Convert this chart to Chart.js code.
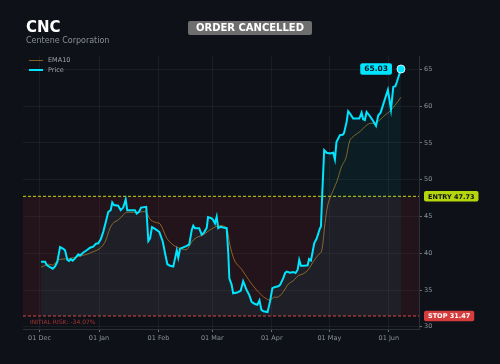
<!DOCTYPE html>
<html>
<head>
<meta charset="utf-8">
<script src="https://cdn.jsdelivr.net/npm/chart.js@4.4.1/dist/chart.umd.min.js"></script>
<style>
    body { margin: 0; background: #0e1117; font-family: 'DejaVu Sans', sans-serif; }
    .wrap { position: relative; width: 500px; height: 364px; }
    .title { position: absolute; left: 26px; top: 18px; color: #fff; font-weight: bold; font-size: 15px; }
    .subtitle { position: absolute; left: 26px; top: 36px; color: #8a8f98; font-size: 8px; }
    .badge { position: absolute; left: 188px; top: 21px; width: 124px; height: 14px; line-height: 14px;
        background: #6e6e6e; color: #fff; font-weight: bold; font-size: 10px; text-align: center; border-radius: 2px; }
    .legend { position: absolute; left: 29px; top: 55px; font-size: 6.5px; color: #a0a4aa; }
    .legend div { height: 10px; line-height: 10px; }
    .legend span { display: inline-block; width: 14px; vertical-align: middle; margin-right: 5px; }
</style>
</head>
<body>
<div class="wrap">
    <canvas id="chart" width="500" height="364"></canvas>
    <div class="title">CNC</div>
    <div class="subtitle">Centene Corporation</div>
    <div class="badge">ORDER CANCELLED</div>
    <div class="legend">
        <div><span style="border-top: 1px solid rgba(230,160,40,0.55)"></span>EMA10</div>
        <div><span style="border-top: 2px solid #00e5ff"></span>Price</div>
    </div>
</div>
<script>
// days counted from 01 Dec
const priceDays = [0.8, 2.9, 3.8, 5.5, 6.9, 8.1, 9.3, 10.7, 12.4, 13.3, 14.5, 15.4, 16.3, 17.3, 18.5, 20.2, 21.1, 22.8, 24.6, 26.3,
    28.0, 29.4, 30.6, 31.9, 33.2, 34.6, 35.8, 37.1, 37.9, 38.8, 41.0, 42.3, 43.6, 44.9, 45.7, 48.0, 49.7, 50.6, 51.8, 52.9,
    55.6, 56.7, 57.6, 58.6, 60.2, 62.4, 64.2, 65.4, 66.6, 68.0, 69.7, 70.6, 71.5, 72.3, 73.2, 74.9, 76.7, 78.0, 79.3, 80.1,
    81.0, 83.2, 84.5, 85.7, 87.1, 87.8, 89.7, 90.5, 91.4, 92.3, 93.1, 94.4, 95.7, 97.5, 98.3, 98.9, 100.1, 100.9, 103.0, 104.8,
    106.1, 107.9, 109.3, 110.5, 112.2, 113.5, 114.6, 115.6, 116.7, 118.8, 120.1, 121.3, 122.7, 124.4, 125.3, 127.0, 127.9, 128.8, 130.5, 132.2,
    133.4, 134.5, 135.3, 136.2, 137.9, 139.7, 140.4, 141.4, 142.3, 143.1, 144.4, 146.1, 146.6, 147.3, 148.3, 149.6, 151.3, 153.0, 153.9, 154.7,
    156.5, 157.9, 158.6, 160.0, 160.8, 162.1, 163.4, 165.2, 166.6, 167.8, 168.6, 169.5, 170.4, 171.8, 173.5, 175.3, 176.5, 177.7, 179.4, 181.5,
    183.1, 184.3, 185.4, 186.2, 188.3];
const priceValues = [38.85, 38.85, 38.4, 38.1, 37.9, 38.2, 38.85, 40.85, 40.6, 40.4, 39.1, 38.95, 39.2, 39.0, 39.3, 39.85, 39.7, 40.1, 40.4, 40.75,
    40.9, 41.3, 41.35, 41.9, 42.9, 44.3, 45.6, 45.85, 46.9, 46.55, 46.45, 45.85, 46.2, 47.3, 45.85, 45.85, 45.85, 45.4, 45.6, 46.2,
    46.3, 41.65, 42.0, 43.55, 43.3, 42.9, 41.6, 40.0, 38.5, 38.3, 38.2, 39.3, 40.4, 39.4, 40.6, 40.8, 41.0, 41.2, 43.15, 43.75,
    43.4, 43.4, 42.5, 42.8, 43.45, 44.9, 44.75, 44.5, 44.05, 44.95, 43.4, 43.6, 43.5, 43.4, 40.2, 36.6, 35.7, 34.55, 34.65, 34.9,
    36.2, 35.0, 34.3, 33.4, 33.1, 33.0, 33.6, 32.3, 32.1, 32.0, 33.45, 35.25, 35.4, 35.5, 35.7, 36.6, 37.3, 37.5, 37.35, 37.45,
    37.3, 37.75, 39.1, 38.3, 38.3, 38.35, 39.2, 39.0, 40.2, 41.35, 42.0, 43.4, 43.6, 48.1, 54.0, 53.65, 53.55, 53.65, 52.75, 55.1,
    56.05, 56.1, 56.3, 57.85, 59.3, 58.85, 58.3, 58.3, 58.3, 59.1, 58.2, 58.1, 59.2, 58.75, 58.1, 57.3, 58.75, 59.1, 60.5, 62.2,
    59.5, 62.6, 62.7, 63.3, 65.03];

const emaDays = [0.8, 4.6, 7.2, 9.8, 12.4, 15.9, 20.2, 24.6, 28.9, 31.5, 34.1, 36.7, 38.8, 41.0, 43.6, 45.4, 48.9, 52.3, 55.5, 57.6,
    60.2, 62.8, 66.4, 69.7, 72.3, 76.7, 79.3, 81.9, 85.3, 87.9, 91.4, 94.9, 97.5, 99.2, 101.8, 105.3, 107.9, 109.6, 113.1, 116.6,
    120.1, 121.8, 124.4, 127.0, 129.6, 132.2, 134.8, 137.4, 140.0, 142.6, 145.2, 147.0, 148.7, 150.4, 152.9, 155.0, 157.4, 159.6, 161.7, 164.3,
    166.9, 169.5, 172.1, 174.7, 177.3, 179.9, 182.6, 185.2, 188.3];
const emaValues = [38.1, 38.5, 38.4, 39.1, 39.2, 39.3, 39.55, 39.85, 40.3, 40.65, 41.5, 43.4, 44.2, 44.5, 45.2, 45.55, 45.55, 45.6, 45.6, 44.6,
    44.2, 44.0, 42.0, 41.1, 40.75, 40.5, 41.55, 42.15, 42.5, 43.0, 43.55, 43.75, 43.4, 41.1, 38.9, 37.8, 36.8, 36.15, 35.0, 34.1,
    33.6, 34.0, 34.05, 34.75, 35.8, 36.25, 36.95, 37.2, 37.75, 38.85, 39.75, 40.3, 44.0, 46.8, 48.5, 49.8, 51.8, 52.9, 55.35, 56.05,
    56.5, 57.2, 57.65, 57.65, 58.1, 58.75, 59.3, 60.1, 61.2];

const monthDays = [0, 31, 62, 90, 121, 151, 182];
const monthLabels = ['01 Dec', '01 Jan', '01 Feb', '01 Mar', '01 Apr', '01 May', '01 Jun'];

const ENTRY = 47.73;
const STOP = 31.47;
const X_MIN = -8.6, X_MAX = 197.7;
const Y_MIN = 29.7, Y_MAX = 66.8;

const pricePoints = priceDays.map((d, i) => ({ x: d, y: priceValues[i] }));
const emaPoints = emaDays.map((d, i) => ({ x: d, y: emaValues[i] }));
const lastIndex = pricePoints.length - 1;

const tickColor = '#8d929a';
const gridColor = 'rgba(255, 255, 255, 0.05)';

// Text labels for entry / stop / last price
const tradeLabels = {
    id: 'tradeLabels',
    afterDraw(chart) {
        const { ctx, chartArea, scales } = chart;
        const y = scales.y, x = scales.x;

        function tag(text, left, cy, bg, fg, size) {
            ctx.save();
            ctx.font = 'bold ' + size + 'px "DejaVu Sans"';
            const w = ctx.measureText(text).width + 8;
            const h = size + 4;
            ctx.fillStyle = bg;
            ctx.beginPath();
            ctx.roundRect(left, cy - h / 2, w, h, 2);
            ctx.fill();
            ctx.fillStyle = fg;
            ctx.textBaseline = 'middle';
            ctx.fillText(text, left + 4, cy + 0.5);
            ctx.restore();
            return w;
        }

        tag('ENTRY ' + ENTRY.toFixed(2), chartArea.right + 5, y.getPixelForValue(ENTRY), '#b5d60c', '#111', 6.5);
        tag('STOP ' + STOP.toFixed(2), chartArea.right + 5, y.getPixelForValue(STOP), '#d63c3c', '#fff', 6.5);

        // last price badge, to the left of the final point
        const last = pricePoints[lastIndex];
        const lx = x.getPixelForValue(last.x);
        const ly = y.getPixelForValue(last.y);
        ctx.save();
        ctx.font = 'bold 7.5px "DejaVu Sans"';
        const bw = ctx.measureText(last.y.toFixed(2)).width + 10;
        ctx.restore();
        tag(last.y.toFixed(2), lx - 8 - bw + 1, ly, '#00e5ff', '#0e1117', 7.5);

        const risk = (STOP - ENTRY) / ENTRY * 100;
        ctx.save();
        ctx.font = '6px "DejaVu Sans"';
        ctx.fillStyle = '#a83434';
        ctx.textBaseline = 'middle';
        ctx.fillText('INITIAL RISK: ' + risk.toFixed(2) + '%', chartArea.left + 7, y.getPixelForValue(STOP) + 6);
        ctx.restore();
    }
};

new Chart(document.getElementById('chart'), {
    type: 'line',
    data: {
        datasets: [
            {
                label: 'Price',
                data: pricePoints,
                borderColor: '#00e5ff',
                borderWidth: 2,
                backgroundColor: 'rgba(0, 229, 255, 0.06)',
                fill: { value: STOP },
                tension: 0,
                pointRadius: ctx => ctx.dataIndex === lastIndex ? 4 : 0,
                pointBackgroundColor: '#00e5ff',
                pointBorderColor: 'rgba(230, 252, 255, 0.9)',
                pointBorderWidth: 1
            },
            {
                label: 'EMA10',
                data: emaPoints,
                borderColor: 'rgba(230, 160, 40, 0.55)',
                borderWidth: 1,
                fill: false,
                tension: 0.3,
                pointRadius: 0
            },
            {
                label: 'Entry',
                data: [{ x: X_MIN, y: ENTRY }, { x: X_MAX, y: ENTRY }],
                borderColor: '#c2dc14',
                borderWidth: 1,
                borderDash: [3, 2],
                backgroundColor: 'rgba(220, 50, 60, 0.1)',
                fill: '+1',
                pointRadius: 0
            },
            {
                label: 'Stop',
                data: [{ x: X_MIN, y: STOP }, { x: X_MAX, y: STOP }],
                borderColor: '#dc4646',
                borderWidth: 1,
                borderDash: [3, 2],
                fill: false,
                pointRadius: 0
            }
        ]
    },
    options: {
        responsive: false,
        animation: false,
        layout: { padding: { left: 23, top: 56, right: 0, bottom: 0 } },
        plugins: {
            legend: { display: false },
            tooltip: { enabled: false }
        },
        scales: {
            x: {
                type: 'linear',
                min: X_MIN,
                max: X_MAX,
                afterBuildTicks: scale => {
                    scale.ticks = monthDays.map(d => ({ value: d }));
                },
                afterFit: scale => { scale.height = 35; },
                ticks: {
                    color: tickColor,
                    font: { family: 'DejaVu Sans', size: 6.5 },
                    padding: 2,
                    maxRotation: 0,
                    callback: (value, index) => monthLabels[index]
                },
                grid: { color: gridColor, tickColor: '#6b7079', tickLength: 3 },
                border: { color: '#2c3038' }
            },
            y: {
                position: 'right',
                min: Y_MIN,
                max: Y_MAX,
                afterFit: scale => { scale.width = 81; },
                ticks: {
                    stepSize: 5,
                    includeBounds: false,
                    color: tickColor,
                    font: { family: 'DejaVu Sans', size: 6.5 },
                    padding: 2
                },
                grid: { color: gridColor, tickColor: '#6b7079', tickLength: 3 },
                border: { color: '#2c3038' }
            }
        }
    },
    plugins: [tradeLabels]
});
</script>
</body>
</html>
